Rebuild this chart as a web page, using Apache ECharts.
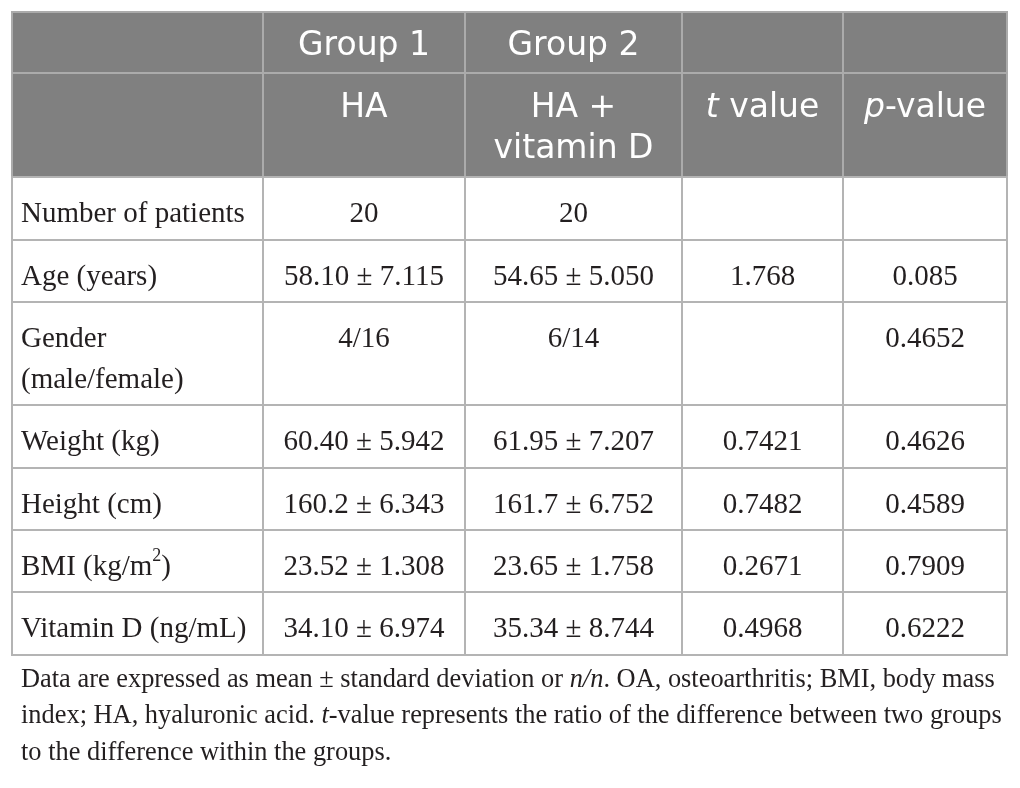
<!DOCTYPE html>
<html>
<head>
<meta charset="utf-8">
<script src="https://cdn.jsdelivr.net/npm/echarts@6/dist/echarts.min.js"></script>
<style>
  html, body { margin: 0; padding: 0; background: #fff; }
  #chart { width: 1020px; height: 788px; }
</style>
</head>
<body>
<div id="chart"></div>
<script>
// table content
const headerTop = ['', 'Group 1', 'Group 2', '', ''];
const headerSub = ['', 'HA', 'HA +\nvitamin D', '{i|t} value', '{i|p}-value'];
const rowLabels = [
  'Number of patients',
  'Age (years)',
  'Gender\n(male/female)',
  'Weight (kg)',
  'Height (cm)',
  'BMI (kg/m{sup|2})',
  'Vitamin D (ng/mL)'
];
const group1 = ['20', '58.10 ± 7.115', '4/16', '60.40 ± 5.942', '160.2 ± 6.343', '23.52 ± 1.308', '34.10 ± 6.974'];
const group2 = ['20', '54.65 ± 5.050', '6/14', '61.95 ± 7.207', '161.7 ± 6.752', '23.65 ± 1.758', '35.34 ± 8.744'];
const tValues = ['', '1.768', '', '0.7421', '0.7482', '0.2671', '0.4968'];
const pValues = ['', '0.085', '0.4652', '0.4626', '0.4589', '0.7909', '0.6222'];
const footnote = [
  'Data are expressed as mean ± standard deviation or {i|n/n}. OA, osteoarthritis; BMI, body mass',
  'index; HA, hyaluronic acid. {i|t}-value represents the ratio of the difference between two groups',
  'to the difference within the groups.'
];

// layout (table units = px inside the grid)
const colEdges = [0, 251, 453, 670, 831, 995];
const rowEdges = [0, 61, 165, 228, 290, 393, 456, 518, 580, 643];

const SANS = '"DejaVu Sans", sans-serif';
const SERIF = '"Liberation Serif", serif';
const headSize = 33;
const bodySize = 29;
const noteSize = 26.4;

const bodyColumns = [rowLabels, group1, group2, tValues, pValues];

function cellText(r, c) {
  if (r === 0) return headerTop[c];
  if (r === 1) return headerSub[c];
  return bodyColumns[c][r - 2];
}

const cells = [];
for (let r = 0; r < rowEdges.length - 1; r++) {
  for (let c = 0; c < colEdges.length - 1; c++) {
    cells.push([c, r]);
  }
}

function renderItem(params, api) {
  const c = api.value(0);
  const r = api.value(1);
  const p0 = api.coord([colEdges[c], rowEdges[r]]);
  const p1 = api.coord([colEdges[c + 1], rowEdges[r + 1]]);
  const head = r < 2;
  const children = [{
    type: 'rect',
    shape: { x: p0[0], y: p0[1], width: p1[0] - p0[0], height: p1[1] - p0[1] },
    style: { fill: head ? '#808080' : '#ffffff', stroke: head ? '#ababab' : '#b4b4b4', lineWidth: 2 }
  }];
  const txt = cellText(r, c);
  if (txt) {
    let style;
    if (head) {
      style = {
        text: txt,
        fontFamily: SANS, fontSize: headSize, fill: '#ffffff',
        align: 'center', verticalAlign: 'top', lineHeight: 41,
        rich: {
          i: { fontFamily: SANS, fontSize: headSize, fontStyle: 'italic', fill: '#ffffff', lineHeight: 41 }
        }
      };
    } else {
      style = {
        text: txt,
        fontFamily: SERIF, fontSize: bodySize, fill: '#231f20',
        align: c === 0 ? 'left' : 'center', verticalAlign: 'top', lineHeight: 41,
        rich: {
          sup: { fontFamily: SERIF, fontSize: 18, fill: '#231f20', verticalAlign: 'top', lineHeight: 26 }
        }
      };
    }
    children.push({
      type: 'text',
      x: c === 0 ? p0[0] + 9 : (p0[0] + p1[0]) / 2,
      y: p0[1] + (r === 0 ? 14 : (r === 1 ? 15 : 17)),
      style: style
    });
  }
  return { type: 'group', children: children };
}

const chart = echarts.init(document.getElementById('chart'));

const option = {
  animation: false,
  backgroundColor: '#ffffff',
  grid: { left: 12, right: 13, top: 12, bottom: 133 },
  xAxis: { type: 'value', min: 0, max: colEdges[colEdges.length - 1], show: false },
  yAxis: { type: 'value', min: 0, max: rowEdges[rowEdges.length - 1], inverse: true, show: false },
  series: [{
    type: 'custom',
    data: cells,
    renderItem: renderItem,
    clip: false
  }],
  graphic: footnote.map(function (line, i) {
    return {
      type: 'text',
      left: 21,
      top: 665 + i * 36.3,
      style: {
        text: line,
        fontFamily: SERIF, fontSize: noteSize, fill: '#231f20',
        lineHeight: 30,
        rich: {
          i: { fontFamily: SERIF, fontSize: noteSize, fontStyle: 'italic', fill: '#231f20', lineHeight: 30 }
        }
      }
    };
  })
};

chart.setOption(option);
</script>
</body>
</html>
